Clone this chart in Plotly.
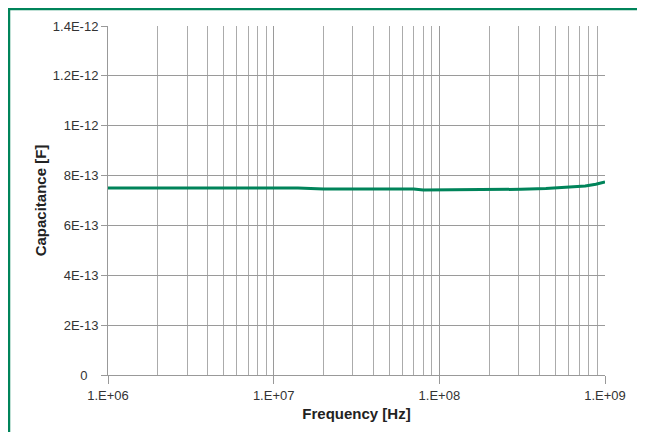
import plotly.graph_objects as go

freq_hz = [1e6, 1.4e7, 2e7, 7e7, 8e7, 3e8, 3.1e8, 4.4e8, 6e8, 7.6e8, 8.8e8, 1e9]
capacitance_f = [7.50e-13, 7.50e-13, 7.46e-13, 7.46e-13, 7.42e-13, 7.42e-13,
                 7.45e-13, 7.48e-13, 7.54e-13, 7.58e-13, 7.65e-13, 7.74e-13]

x_tickvals = [1e6, 1e7, 1e8, 1e9]
x_ticktext = ["1.E+06", "1.E+07", "1.E+08", "1.E+09"]
y_tickvals = [0, 2e-13, 4e-13, 6e-13, 8e-13, 1e-12, 1.2e-12, 1.4e-12]
y_ticktext = ["0\u00a0\u00a0\u00a0", "2E-13", "4E-13", "6E-13", "8E-13", "1E-12", "1.2E-12", "1.4E-12"]

GREEN = "#00845A"
GRID = "#9a9a9a"
MINOR = "#ababab"

fig = go.Figure()
fig.add_trace(go.Scatter(x=freq_hz, y=capacitance_f, mode="lines",
                         line=dict(color=GREEN, width=3), showlegend=False))

# page has an 8px body margin; compensate so plot area lands at 108..605 x 26..375
W, H = 645, 432
L, R, T, B = 100, 48, 18, 65
pw, ph = W - L - R, H - T - B

def px_x(p):
    return (p - L) / pw

def px_y(p):
    return (H - B - p) / ph

fig.update_layout(
    width=W, height=H,
    margin=dict(l=L, r=R, t=T, b=B),
    paper_bgcolor="white", plot_bgcolor="white",
    font=dict(family="Liberation Sans, Arial, sans-serif", size=13, color="#333333"),
    xaxis=dict(type="log", range=[6, 9], tickvals=x_tickvals, ticktext=x_ticktext,
               showgrid=True, gridcolor=GRID, gridwidth=1,
               minor=dict(showgrid=True, gridcolor=MINOR, gridwidth=1, dtick="D1", ticks=""),
               showline=True, linecolor="#999999", linewidth=1,
               ticks="outside", ticklen=8, tickcolor="#999999",
               title=dict(text="<b>Frequency [Hz]</b>", font=dict(size=15, color="#222222"), standoff=6),
               zeroline=False, mirror=False),
    yaxis=dict(range=[0, 1.4e-12], tickvals=y_tickvals, ticktext=y_ticktext,
               showgrid=True, gridcolor=GRID, gridwidth=1,
               showline=True, linecolor="#999999", linewidth=1,
               ticks="outside", ticklen=6, tickcolor="#999999",
               title=dict(text="<b>Capacitance [F]</b>", font=dict(size=15, color="#222222"), standoff=2),
               zeroline=False),
    shapes=[
        dict(type="line", xref="paper", yref="paper",
             x0=px_x(1), x1=px_x(1), y0=px_y(1), y1=px_y(440),
             line=dict(color=GREEN, width=2.5)),
        dict(type="line", xref="paper", yref="paper",
             x0=px_x(0), x1=px_x(650), y0=px_y(1), y1=px_y(1),
             line=dict(color=GREEN, width=2.5)),
    ],
)

fig.write_html("out.html")
